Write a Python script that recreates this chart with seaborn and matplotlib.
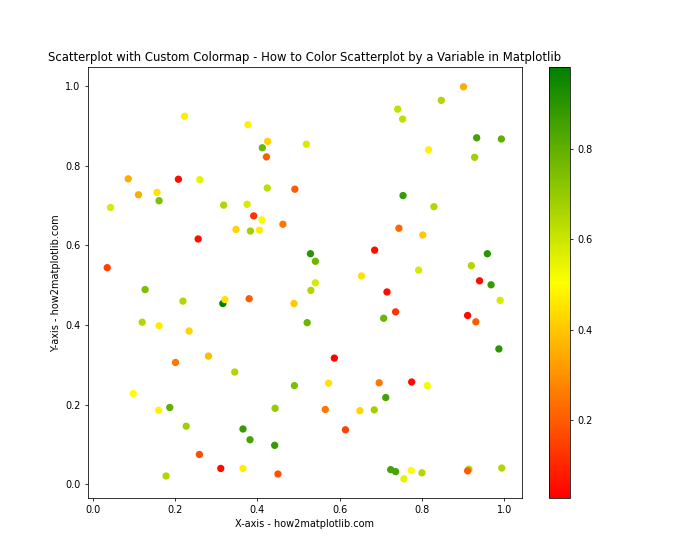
import numpy as np
import pandas as pd
import matplotlib
matplotlib.use("Agg")
import matplotlib.pyplot as plt
import seaborn as sns
from matplotlib.colors import LinearSegmentedColormap, Normalize

# values
x_vals = [0.035, 0.043, 0.086, 0.111, 0.156, 0.161, 0.208, 0.223, 0.260, 0.256,
          0.318, 0.348, 0.377, 0.375, 0.383, 0.391, 0.405, 0.411, 0.412, 0.425,
          0.422, 0.424, 0.462, 0.491, 0.901, 0.847, 0.741, 0.753, 0.519, 0.816,
          0.933, 0.993, 0.928, 0.754, 0.829, 0.744, 0.802, 0.685, 0.529, 0.541,
          0.959, 0.920, 0.792, 0.653, 0.940, 0.968, 0.541, 0.530, 0.489, 0.521,
          0.715, 0.736, 0.707, 0.990, 0.911, 0.931, 0.987, 0.587, 0.490, 0.573,
          0.696, 0.775, 0.813, 0.712, 0.565, 0.649, 0.684, 0.614, 0.724, 0.736,
          0.774, 0.756, 0.800, 0.914, 0.911, 0.994, 0.127, 0.219, 0.316, 0.321,
          0.380, 0.120, 0.161, 0.234, 0.201, 0.281, 0.345, 0.098, 0.160, 0.187,
          0.443, 0.227, 0.365, 0.382, 0.442, 0.259, 0.311, 0.365, 0.450, 0.178]
y_vals = [0.544, 0.695, 0.767, 0.727, 0.733, 0.712, 0.766, 0.924, 0.765, 0.616,
          0.701, 0.640, 0.903, 0.703, 0.636, 0.674, 0.638, 0.664, 0.845, 0.861,
          0.822, 0.744, 0.653, 0.741, 0.998, 0.964, 0.942, 0.917, 0.854, 0.840,
          0.870, 0.867, 0.821, 0.725, 0.697, 0.643, 0.626, 0.588, 0.579, 0.560,
          0.579, 0.549, 0.538, 0.523, 0.511, 0.501, 0.506, 0.487, 0.454, 0.406,
          0.483, 0.433, 0.417, 0.462, 0.424, 0.408, 0.340, 0.317, 0.248, 0.254,
          0.255, 0.257, 0.248, 0.218, 0.188, 0.185, 0.187, 0.137, 0.037, 0.032,
          0.035, 0.014, 0.029, 0.038, 0.034, 0.041, 0.489, 0.460, 0.454, 0.464,
          0.466, 0.407, 0.398, 0.385, 0.306, 0.322, 0.282, 0.228, 0.186, 0.193,
          0.191, 0.146, 0.139, 0.112, 0.098, 0.075, 0.040, 0.040, 0.026, 0.021]
c_vals = [0.15, 0.58, 0.35, 0.35, 0.45, 0.75, 0.05, 0.47, 0.55, 0.05,
          0.65, 0.42, 0.48, 0.58, 0.68, 0.12, 0.47, 0.52, 0.78, 0.42,
          0.20, 0.63, 0.25, 0.20, 0.35, 0.65, 0.62, 0.62, 0.58, 0.48,
          0.85, 0.80, 0.68, 0.88, 0.65, 0.22, 0.40, 0.05, 0.90, 0.78,
          0.90, 0.65, 0.58, 0.45, 0.05, 0.88, 0.58, 0.65, 0.40, 0.78,
          0.05, 0.12, 0.78, 0.58, 0.05, 0.20, 0.90, 0.026, 0.75, 0.45,
          0.25, 0.05, 0.52, 0.85, 0.25, 0.43, 0.68, 0.15, 0.85, 0.85,
          0.50, 0.55, 0.65, 0.65, 0.20, 0.65, 0.75, 0.65, 0.982, 0.45,
          0.20, 0.65, 0.47, 0.42, 0.25, 0.38, 0.65, 0.50, 0.48, 0.80,
          0.70, 0.68, 0.88, 0.85, 0.88, 0.17, 0.05, 0.47, 0.18, 0.65]

df = pd.DataFrame({"x": x_vals, "y": y_vals, "value": c_vals})

cmap = LinearSegmentedColormap.from_list("custom", ["red", "yellow", "green"])
norm = Normalize(vmin=min(c_vals), vmax=max(c_vals))

fig, ax = plt.subplots(figsize=(10, 8), dpi=70)
sns.scatterplot(data=df, x="x", y="y", hue="value", palette=cmap, hue_norm=norm,
                legend=False, s=36, linewidth=1.5, edgecolor="face", ax=ax)

sm = plt.cm.ScalarMappable(cmap=cmap, norm=norm)
sm.set_array([])
fig.colorbar(sm, ax=ax)

ax.set_title("Scatterplot with Custom Colormap - How to Color Scatterplot by a Variable in Matplotlib")
ax.set_xlabel("X-axis - how2matplotlib.com")
ax.set_ylabel("Y-axis - how2matplotlib.com")

fig.savefig("out.png", dpi=70)
